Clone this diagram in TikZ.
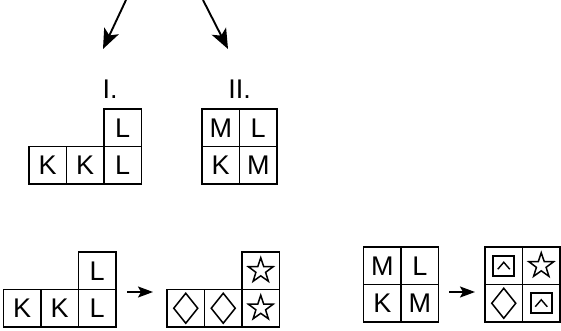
\documentclass[tikz,border=0pt]{standalone}
\usepackage{fontspec}
\setmainfont{Liberation Sans}
\usetikzlibrary{arrows.meta}
\begin{document}
\begin{tikzpicture}[x=1pt,y=-1pt,
 cell/.style={draw, line width=1.8pt, minimum size=37.5pt, inner sep=0pt, font=\fontsize{27}{27}\selectfont},
 lbl/.style={font=\fontsize{27}{27}\selectfont, inner sep=0pt},
 arr/.style={line width=1.9pt, -{Stealth[length=20pt,width=16pt,inset=5pt]}},
 sarr/.style={line width=1.9pt, -{Stealth[length=15pt,width=11pt,inset=3pt]}},
 symline/.style={line width=1.5pt, line join=miter},
 starpic/.pic={\draw[symline] (270:13) -- (306:5.1) -- (342:13) -- (18:5.1) -- (54:13) -- (90:5.1) -- (126:13) -- (162:5.1) -- (198:13) -- (234:5.1) -- cycle;},
 diapic/.pic={\draw[symline] (0,-15) -- (12,0) -- (0,15) -- (-12,0) -- cycle;},
 boxpic/.pic={\draw[line width=2.2pt] (-10.5,-10) rectangle (10.5,10);
   \draw[line width=1.4pt] (-6,3.5) -- (0,-3.5) -- (6,3.5);}]
\path[use as bounding box, fill=white] (0,0) rectangle (561,331);

% top arrows
\coordinate (t1s) at (126,0);
\coordinate (t1e) at (103,49);
\coordinate (t2s) at (203,0);
\coordinate (t2e) at (228,49);
\draw[arr] (t1s) -- (t1e);
\draw[arr] (t2s) -- (t2e);

% group I
\node[lbl] (labI) at (110,89) {I.};
\node[cell] (ia) at (47.75,165.25) {K};
\node[cell] (ib) at (85.25,165.25) {K};
\node[cell] (ic) at (122.75,165.25) {L};
\node[cell] (id) at (122.75,127.75) {L};

% group II
\node[lbl] (labII) at (239.5,89) {II.};
\node[cell] (iia) at (220.75,127.75) {M};
\node[cell] (iib) at (258.25,127.75) {L};
\node[cell] (iic) at (220.75,165.25) {K};
\node[cell] (iid) at (258.25,165.25) {M};

% bottom left group
\node[cell] (ba) at (22.25,308.25) {K};
\node[cell] (bb) at (59.75,308.25) {K};
\node[cell] (bc) at (97.25,308.25) {L};
\node[cell] (bd) at (97.25,270.75) {L};

\coordinate (a1s) at (127,292);
\coordinate (a1e) at (153,292);
\draw[sarr] (a1s) -- (a1e);

% bottom second group
\node[cell] (ca) at (185.75,308.25) {};
\node[cell] (cb) at (223.25,308.25) {};
\node[cell] (cc) at (260.75,308.25) {};
\node[cell] (cd) at (260.75,270.75) {};
\pic (cas) at (ca.center) {diapic};
\pic (cbs) at (cb.center) {diapic};
\pic (ccs) at (cc.center) {starpic};
\pic (cds) at (cd.center) {starpic};

% bottom 2x2 left
\node[cell] (da) at (382.25,265.75) {M};
\node[cell] (db) at (419.75,265.75) {L};
\node[cell] (dc) at (382.25,303.25) {K};
\node[cell] (dd) at (419.75,303.25) {M};

\coordinate (a2s) at (449,292);
\coordinate (a2e) at (475,292);
\draw[sarr] (a2s) -- (a2e);

% bottom 2x2 right
\node[cell] (ea) at (503.75,265.75) {};
\node[cell] (eb) at (541.25,265.75) {};
\node[cell] (ec) at (503.75,303.25) {};
\node[cell] (ed) at (541.25,303.25) {};
\pic (eas) at (ea.center) {boxpic};
\pic (ebs) at (eb.center) {starpic};
\pic (ecs) at (ec.center) {diapic};
\pic (eds) at (ed.center) {boxpic};
\end{tikzpicture}
\end{document}
